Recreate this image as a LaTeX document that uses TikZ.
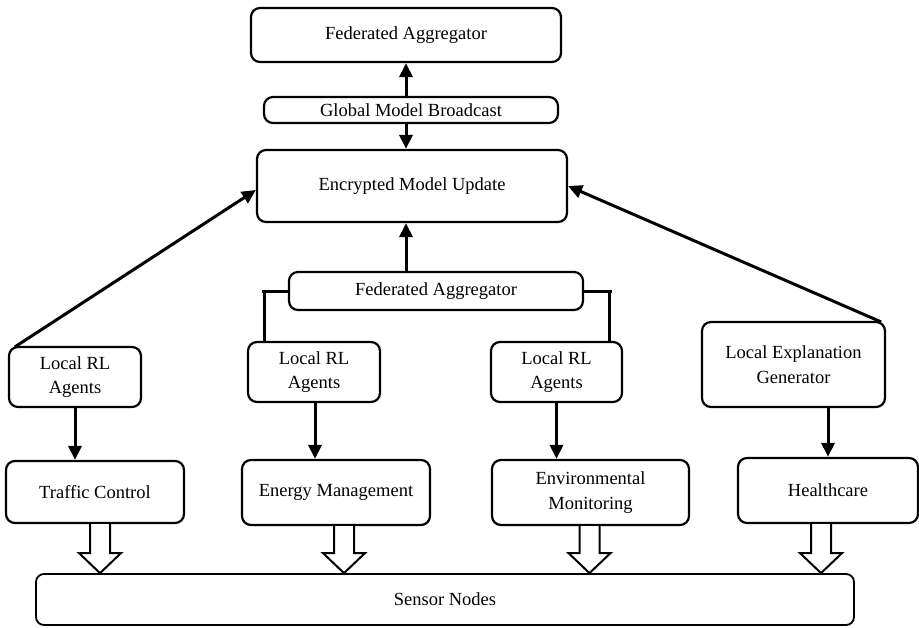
\documentclass[tikz,border=0pt]{standalone}
\usepackage{fontspec}
\setmainfont{Liberation Serif}
\usetikzlibrary{arrows.meta,calc}
\begin{document}
\begin{tikzpicture}[x=1pt,y=-1pt,
  box/.style={draw,line width=2.2pt,rounded corners=9pt,align=center,inner sep=0pt,
    font=\fontsize{18.5}{24.5}\selectfont},
  arr/.style={line width=3pt,-{Triangle[length=14pt,width=13pt]}},
  link/.style={line width=3pt},
  hollow/.style={line width=2pt,fill=white,line join=miter}]
\useasboundingbox (0,0) rectangle (919,627);
% nodes
\node[box,minimum width=310pt,minimum height=54pt] (fa1) at (406,35) {Federated Aggregator};
\node[box,minimum width=294pt,minimum height=26pt] (gmb) at (411,110) {Global Model Broadcast};
\node[box,minimum width=310pt,minimum height=72pt] (emu) at (412,186) {Encrypted Model Update};
\node[box,minimum width=294pt,minimum height=38pt] (fa2) at (436,291) {Federated Aggregator};
\node[box,minimum width=132pt,minimum height=60pt] (rl1) at (75,377) {Local RL\\Agents};
\node[box,minimum width=132pt,minimum height=60pt] (rl2) at (314,372) {Local RL\\Agents};
\node[box,minimum width=131pt,minimum height=60pt] (rl3) at (556.5,372) {Local RL\\Agents};
\node[box,minimum width=183pt,minimum height=85pt] (leg) at (793.5,364.5) {Local Explanation\\Generator};
\node[box,minimum width=178pt,minimum height=62pt] (tc) at (95,492) {Traffic Control};
\node[box,minimum width=188pt,minimum height=65pt] (em) at (336,492.5) {Energy Management};
\node[box,minimum width=197pt,minimum height=65pt] (env) at (590.5,492.5) {Environmental\\Monitoring};
\node[box,minimum width=180pt,minimum height=65pt] (hc) at (828,490.5) {Healthcare};
\node[box,line width=1.8pt,rounded corners=8pt,minimum width=818pt,minimum height=51pt] (sn) at (445,599.5) {Sensor Nodes};
% top arrows
\draw[arr] (gmb.north -| fa1.south) -- (fa1.south);
\draw[arr] (gmb.south -| fa1.south) -- (emu.north -| fa1.south);
\draw[arr] (fa2.north -| fa1.south) -- (emu.south -| fa1.south);
% diagonals
\draw[arr] ($(rl1.north west)+(7,1)$) -- ($(emu.west)+(0,4)$);
\draw[arr] ($(leg.north east)+(-5,1)$) -- (emu.east);
% bracket links
\coordinate (lk) at ($(rl2.north west)+(18,0)$);
\coordinate (rk) at ($(rl3.north east)+(-14,0)$);
\draw[link] (fa2.west) -- ($(lk |- fa2.west)+(-3,0)$);
\draw[link] (lk |- fa2.west) -- (lk);
\draw[link] (fa2.east) -- ($(rk |- fa2.east)+(3,0)$);
\draw[link] (rk |- fa2.east) -- (rk);
% vertical arrows
\draw[arr] (rl1.south) -- (tc.north -| rl1.south);
\draw[arr] ($(rl2.south)+(1,0)$) -- ($(em.north -| rl2.south)+(1,0)$);
\draw[arr] (rl3.south) -- (env.north -| rl3.south);
\draw[arr] (leg.south -| hc.north) -- (hc.north);
% hollow arrows
\newcommand\hollowarr[2]{%
  \draw[hollow] let \p1=($(#1.south)+(#2,0)$), \p2=(sn.north) in
    (\x1-10pt,\y1) -- (\x1-10pt,\y2+20pt) -- (\x1-21pt,\y2+20pt) -- (\x1,\y2)
    -- (\x1+21pt,\y2+20pt) -- (\x1+10pt,\y2+20pt) -- (\x1+10pt,\y1);}
\hollowarr{tc}{5}
\hollowarr{em}{8}
\hollowarr{env}{-1}
\hollowarr{hc}{-7}
\end{tikzpicture}
\end{document}
